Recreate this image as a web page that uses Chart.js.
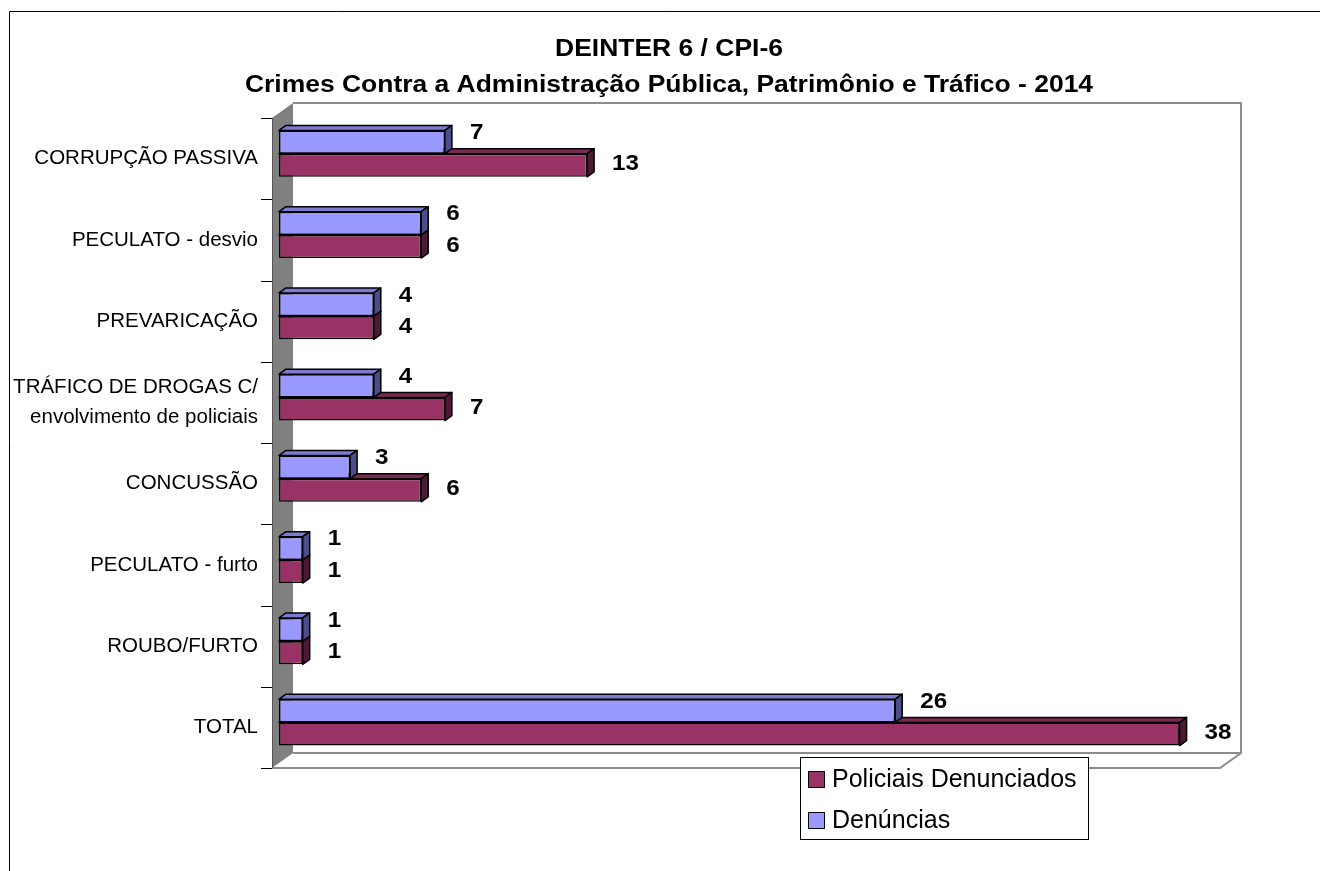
<!DOCTYPE html>
<html>
<head>
<meta charset="utf-8">
<script src="https://cdn.jsdelivr.net/npm/chart.js@4.4.1/dist/chart.umd.min.js"></script>
<style>
  html, body { margin: 0; padding: 0; background: #fff; overflow: hidden; }
  #wrap { position: relative; width: 1320px; height: 871px; }
</style>
</head>
<body>
<div id="wrap"><canvas id="chart" width="1320" height="871"></canvas></div>
<script>
const categories = [
  "CORRUPÇÃO PASSIVA",
  "PECULATO - desvio",
  "PREVARICAÇÃO",
  ["TRÁFICO DE DROGAS C/", "envolvimento de policiais"],
  "CONCUSSÃO",
  "PECULATO - furto",
  "ROUBO/FURTO",
  "TOTAL"
];
const denuncias = [7, 6, 4, 4, 3, 1, 1, 26];
const policiais = [13, 6, 4, 7, 6, 1, 1, 38];
const titleLines = ["DEINTER 6 / CPI-6", "Crimes Contra a Administração Pública, Patrimônio e Tráfico - 2014"];
const valueMax = 40;

const FONT = '"Liberation Sans", Arial, sans-serif';
const BLUE = "#9999FF";
const MAROON = "#993366";
const faces = {
  [BLUE]: { top: "#7b7bd0", side: "#4d4d8c" },
  [MAROON]: { top: "#7a2952", side: "#4d1933" }
};
const BAR_DEPTH = { x: 7, y: 5 };
const WALL_DEPTH = { x: 21, y: 15 };
const GRID_GRAY = "#8c8c8c";

// draw text stretched horizontally like the old office render
function wideText(ctx, text, x, y, sx, align) {
  ctx.save();
  ctx.translate(x, y);
  ctx.scale(sx, 1);
  ctx.textAlign = align;
  ctx.fillText(text, 0, 0);
  ctx.restore();
}

const box3d = {
  id: "box3d",
  beforeDatasetsDraw(chart) {
    const { ctx, chartArea: ca, scales } = chart;
    const fx0 = ca.left - BAR_DEPTH.x;
    const fx1 = scales.x.getPixelForValue(valueMax) - BAR_DEPTH.x;
    const fyTop = ca.top + BAR_DEPTH.y;
    const fyBot = ca.bottom + BAR_DEPTH.y;
    const bx0 = fx0 + WALL_DEPTH.x, bx1 = fx1 + WALL_DEPTH.x;
    const byTop = fyTop - WALL_DEPTH.y, byBot = fyBot - WALL_DEPTH.y;

    ctx.save();
    // outer frame
    ctx.strokeStyle = "#000";
    ctx.lineWidth = 1;
    ctx.beginPath();
    ctx.moveTo(9.5, chart.height + 2);
    ctx.lineTo(9.5, 11.5);
    ctx.lineTo(chart.width + 2, 11.5);
    ctx.stroke();

    // back wall and floor
    ctx.strokeStyle = GRID_GRAY;
    ctx.lineWidth = 2;
    ctx.beginPath();
    ctx.moveTo(bx0, byTop);
    ctx.lineTo(bx1, byTop);
    ctx.lineTo(bx1, byBot);
    ctx.lineTo(fx1, fyBot);
    ctx.lineTo(fx0, fyBot);
    ctx.moveTo(bx0, byBot);
    ctx.lineTo(bx1, byBot);
    ctx.stroke();

    // side wall
    ctx.fillStyle = "#808080";
    ctx.beginPath();
    ctx.moveTo(fx0, fyTop);
    ctx.lineTo(bx0, byTop);
    ctx.lineTo(bx0, byBot);
    ctx.lineTo(fx0, fyBot);
    ctx.closePath();
    ctx.fill();
    ctx.strokeStyle = "#555";
    ctx.lineWidth = 1;
    ctx.beginPath();
    ctx.moveTo(fx0 + 0.5, fyTop);
    ctx.lineTo(fx0 + 0.5, fyBot);
    ctx.stroke();

    // category tick marks
    ctx.strokeStyle = "#000";
    for (let i = 0; i <= categories.length; i++) {
      const y = Math.round(scales.y.getPixelForValue(i - 0.5) + BAR_DEPTH.y) + 0.5;
      ctx.beginPath();
      ctx.moveTo(fx0 - 11, y);
      ctx.lineTo(fx0, y);
      ctx.stroke();
    }
    ctx.restore();
  },
  afterDatasetDraw(chart, args) {
    const { ctx } = chart;
    const ds = chart.data.datasets[args.index];
    const f = faces[ds.backgroundColor];
    const dx = BAR_DEPTH.x, dy = BAR_DEPTH.y;
    ctx.save();
    ctx.strokeStyle = "#000";
    ctx.lineWidth = 1.5;
    ctx.lineJoin = "round";
    args.meta.data.forEach(bar => {
      const left = Math.min(bar.x, bar.base), right = Math.max(bar.x, bar.base);
      const top = bar.y - bar.height / 2, bottom = bar.y + bar.height / 2;
      ctx.fillStyle = f.top;
      ctx.beginPath();
      ctx.moveTo(left, top);
      ctx.lineTo(left + dx, top - dy);
      ctx.lineTo(right + dx, top - dy);
      ctx.lineTo(right, top);
      ctx.closePath();
      ctx.fill();
      ctx.stroke();
      ctx.fillStyle = f.side;
      ctx.beginPath();
      ctx.moveTo(right, top);
      ctx.lineTo(right + dx, top - dy);
      ctx.lineTo(right + dx, bottom - dy);
      ctx.lineTo(right, bottom);
      ctx.closePath();
      ctx.fill();
      ctx.stroke();
    });
    ctx.restore();
  },
  afterDatasetsDraw(chart) {
    const { ctx } = chart;
    const lift = [-9, -1];
    ctx.save();
    ctx.fillStyle = "#000";
    ctx.font = "bold 22px " + FONT;
    ctx.textBaseline = "middle";
    chart.data.datasets.forEach((ds, di) => {
      chart.getDatasetMeta(di).data.forEach((bar, i) => {
        const right = Math.max(bar.x, bar.base);
        wideText(ctx, String(ds.data[i]), right + 25, bar.y + lift[di], 1.1, "left");
      });
    });
    ctx.restore();
  },
  afterDraw(chart) {
    const { ctx } = chart;
    ctx.save();
    // title
    ctx.fillStyle = "#000";
    ctx.font = "bold 23px " + FONT;
    ctx.textBaseline = "alphabetic";
    wideText(ctx, titleLines[0], 669, 56, 1.15, "center");
    wideText(ctx, titleLines[1], 669, 92, 1.15, "center");

    // legend (series listed bottom-up like the source)
    const lx = 800, ly = 757, lw = 288, lh = 82;
    ctx.fillStyle = "#fff";
    ctx.fillRect(lx, ly, lw, lh);
    ctx.strokeStyle = "#000";
    ctx.lineWidth = 1;
    ctx.strokeRect(lx + 0.5, ly + 0.5, lw, lh);
    const items = chart.data.datasets.slice().reverse();
    ctx.font = "25px " + FONT;
    ctx.textBaseline = "middle";
    items.forEach((ds, k) => {
      const cy = ly + 22 + k * 41;
      ctx.fillStyle = ds.backgroundColor;
      ctx.fillRect(lx + 8, cy - 8, 16, 16);
      ctx.strokeRect(lx + 8.5, cy - 7.5, 16, 16);
      ctx.fillStyle = "#000";
      ctx.textAlign = "left";
      ctx.fillText(ds.label, lx + 32, cy + 1);
    });
    ctx.restore();
  }
};

new Chart(document.getElementById("chart"), {
  type: "bar",
  data: {
    labels: categories,
    datasets: [
      {
        label: "Denúncias",
        data: denuncias,
        backgroundColor: BLUE,
        borderColor: "#000",
        borderWidth: 1.5,
        borderSkipped: false,
        categoryPercentage: 0.57,
        barPercentage: 1.0
      },
      {
        label: "Policiais Denunciados",
        data: policiais,
        backgroundColor: MAROON,
        borderColor: "#000",
        borderWidth: 1.5,
        borderSkipped: false,
        categoryPercentage: 0.57,
        barPercentage: 1.0
      }
    ]
  },
  options: {
    indexAxis: "y",
    responsive: false,
    devicePixelRatio: 1,
    animation: false,
    layout: { padding: { left: 0, top: 113, right: 93, bottom: 108 } },
    scales: {
      x: { display: false, min: 0, max: valueMax },
      y: {
        grid: { display: false, drawTicks: false },
        border: { display: false },
        ticks: {
          color: "#000",
          autoSkip: false,
          padding: 21,
          labelOffset: 5,
          font: { family: FONT, size: 20.5, lineHeight: 1.45 }
        },
        afterFit(scale) { scale.width = 279; }
      }
    },
    plugins: {
      legend: { display: false },
      tooltip: { enabled: false }
    }
  },
  plugins: [box3d]
});
</script>
</body>
</html>
